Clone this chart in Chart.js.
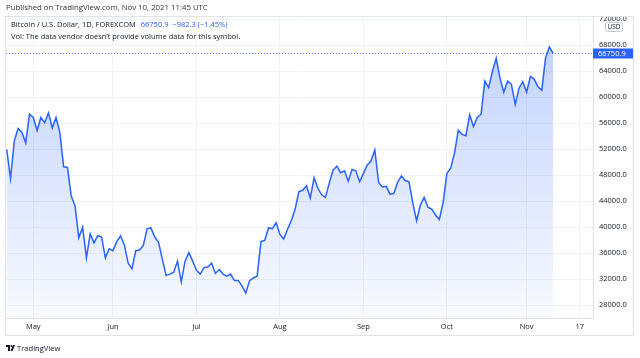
<!DOCTYPE html>
<html>
<head>
<meta charset="utf-8">
<script src="https://cdn.jsdelivr.net/npm/chart.js@4.4.0/dist/chart.umd.min.js"></script>
<style>
  html, body { margin: 0; padding: 0; background: #fff; }
  #wrap { width: 640px; height: 358px; }
</style>
</head>
<body>
<div id="wrap"><canvas id="chart" width="640" height="358"></canvas></div>
<script>
// BTCUSD FOREXCOM, 1D weekday bars from Apr 22 to Nov 10 2021 (bar 0 = May 3)
const firstBar = -7;
const closes = [
  52000, 47500, 53300, 55200, 54600, 53000, 57400,
  56900, 54900, 56900, 56100, 57600, 55300, 56900, 54600, 49300, 49200,
  44800, 43300, 38400, 40000, 35300, 39000, 37600, 38700, 38500, 35300,
  36700, 36400, 37800, 38700, 37300, 34500, 33600, 36400, 36500, 37200,
  39800, 39900, 38500, 37700, 35100, 32600, 32800, 33100, 34800, 31600,
  34800, 36100, 34800, 33400, 32800, 33800, 33900, 34500, 32900, 33500,
  32800, 32500, 32800, 31800, 31800, 31000, 29900, 31800, 32200, 32500,
  37800, 38000, 39900, 39800, 40700, 38900, 38200, 39700, 41000, 42800,
  45500, 45700, 46400, 44500, 47600, 46000, 45000, 44600, 46800, 48800,
  49400, 48400, 48700, 47100, 48900, 48700, 47000, 48300, 49600, 50200,
  51900, 46900, 46200, 46300, 45100, 45200, 46900, 47900, 47200, 47000,
  43800, 41000, 43400, 44600, 43100, 42800, 41900, 41200, 43800, 48300,
  49100, 51400, 54900, 54300, 54100, 57300, 55500, 56900, 57400, 62500,
  61500, 64000, 66000, 62900, 60800, 62500, 62000, 58900, 61400, 62400,
  60800, 63200, 62800, 61600, 61100, 66100, 67733.2, 66750.9
];
const priceTicks = [28000, 32000, 36000, 40000, 44000, 48000, 52000, 56000, 60000, 64000, 68000, 72000];
const timeLabels = ['May', 'Jun', 'Jul', 'Aug', 'Sep', 'Oct', 'Nov', '17'];
const timeBars = [0, 21, 43, 65, 87, 109, 130, 144];
const lastPrice = 66750.9;
const change = -982.3;
const changePct = -1.45;

const blue = '#2962ff';
const gridColor = '#f0f3fa';
const frameColor = '#e0e3eb';
const textColor = '#131722';
const font = '"Open Sans", "Liberation Sans", sans-serif';

const points = closes.map((v, i) => ({ x: firstBar + i, y: v }));

const tvExtras = {
  id: 'tvExtras',
  afterDraw(chart) {
    const ctx = chart.ctx;
    const area = chart.chartArea;
    const y = chart.scales.y;
    ctx.save();

    // outer frame
    ctx.strokeStyle = frameColor;
    ctx.lineWidth = 1;
    ctx.strokeRect(5.5, 16.5, 628, 319);

    // last price dotted line
    const py = Math.round(y.getPixelForValue(lastPrice)) + 0.5;
    ctx.strokeStyle = 'rgba(41,98,255,0.75)';
    ctx.setLineDash([1, 2]);
    ctx.beginPath();
    ctx.moveTo(area.left, py);
    ctx.lineTo(area.right, py);
    ctx.stroke();
    ctx.setLineDash([]);

    // last price label
    ctx.fillStyle = blue;
    ctx.fillRect(area.right, py - 5, 40, 10);
    ctx.fillStyle = '#fff';
    ctx.font = '7.5px ' + font;
    ctx.textBaseline = 'middle';
    ctx.fillText(lastPrice.toFixed(1), area.right + 5, py);

    // currency box
    ctx.fillStyle = '#fff';
    ctx.strokeStyle = '#c7cad1';
    ctx.beginPath();
    ctx.roundRect(605.5, 22.5, 17, 9, 2);
    ctx.fill();
    ctx.stroke();
    ctx.fillStyle = textColor;
    ctx.font = '6.5px ' + font;
    ctx.textAlign = 'center';
    ctx.fillText('USD', 614, 27.5);
    ctx.textAlign = 'left';

    // header & legend
    ctx.textBaseline = 'middle';
    ctx.fillStyle = '#333';
    ctx.font = '7.8px ' + font;
    ctx.fillText('Published on TradingView.com, Nov 10, 2021 11:45 UTC', 6, 8);

    ctx.fillStyle = textColor;
    ctx.font = '7.5px ' + font;
    const title = 'Bitcoin / U.S. Dollar, 1D, FOREXCOM';
    ctx.fillText(title, 11, 25);
    const tw = ctx.measureText(title).width;
    ctx.fillStyle = blue;
    const chg = lastPrice.toFixed(1) + '  \u2212' + Math.abs(change).toFixed(1) +
      ' (\u2212' + Math.abs(changePct).toFixed(2) + '%)';
    ctx.fillText(chg, 11 + tw + 5, 25);
    ctx.fillStyle = textColor;
    ctx.fillText('Vol: The data vendor doesn\u2019t provide volume data for this symbol.', 11, 37);

    // logo
    ctx.fillStyle = textColor;
    ctx.fillRect(6, 345, 4, 2);
    ctx.fillRect(8, 345, 2, 6);
    ctx.beginPath();
    ctx.arc(11.5, 346, 1, 0, Math.PI * 2);
    ctx.fill();
    ctx.beginPath();
    ctx.moveTo(13, 345);
    ctx.lineTo(15, 345);
    ctx.lineTo(12.5, 351);
    ctx.lineTo(10.5, 351);
    ctx.closePath();
    ctx.fill();
    ctx.font = '7.6px ' + font;
    ctx.fillText('TradingView', 17, 348.5);

    ctx.restore();
  }
};

new Chart(document.getElementById('chart'), {
  type: 'line',
  data: {
    datasets: [{
      data: points,
      borderColor: blue,
      borderWidth: 1.5,
      pointRadius: 0,
      tension: 0,
      fill: 'start',
      backgroundColor(c) {
        const a = c.chart.chartArea;
        if (!a) return 'rgba(41,98,255,0.15)';
        const g = c.chart.ctx.createLinearGradient(0, a.top + 30, 0, a.bottom);
        g.addColorStop(0, 'rgba(41,98,255,0.28)');
        g.addColorStop(1, 'rgba(41,98,255,0.03)');
        return g;
      }
    }]
  },
  options: {
    responsive: false,
    animation: false,
    layout: { padding: { left: 6, top: 16, right: 7, bottom: 23 } },
    plugins: { legend: { display: false }, tooltip: { enabled: false } },
    scales: {
      x: {
        type: 'linear',
        min: -7.19,
        max: 147.5,
        grid: { color: gridColor, drawTicks: false },
        border: { color: frameColor },
        afterBuildTicks(s) { s.ticks = timeBars.map(v => ({ value: v })); },
        afterFit(s) { s.height = 17; s.paddingLeft = 0; s.paddingRight = 0; },
        ticks: {
          autoSkip: false,
          maxRotation: 0,
          padding: 4,
          color: textColor,
          font: { family: font, size: 7.5 },
          callback: (v) => timeLabels[timeBars.indexOf(v)]
        }
      },
      y: {
        position: 'right',
        min: 26046,
        max: 72508,
        grid: { color: gridColor, drawTicks: false },
        border: { color: frameColor },
        afterBuildTicks(s) { s.ticks = priceTicks.map(v => ({ value: v })); },
        afterFit(s) { s.width = 40; s.paddingTop = 0; s.paddingBottom = 0; },
        ticks: {
          padding: 6,
          color: textColor,
          font: { family: font, size: 7.5 },
          callback: (v) => Number(v).toFixed(1)
        }
      }
    }
  },
  plugins: [tvExtras]
});
</script>
</body>
</html>
